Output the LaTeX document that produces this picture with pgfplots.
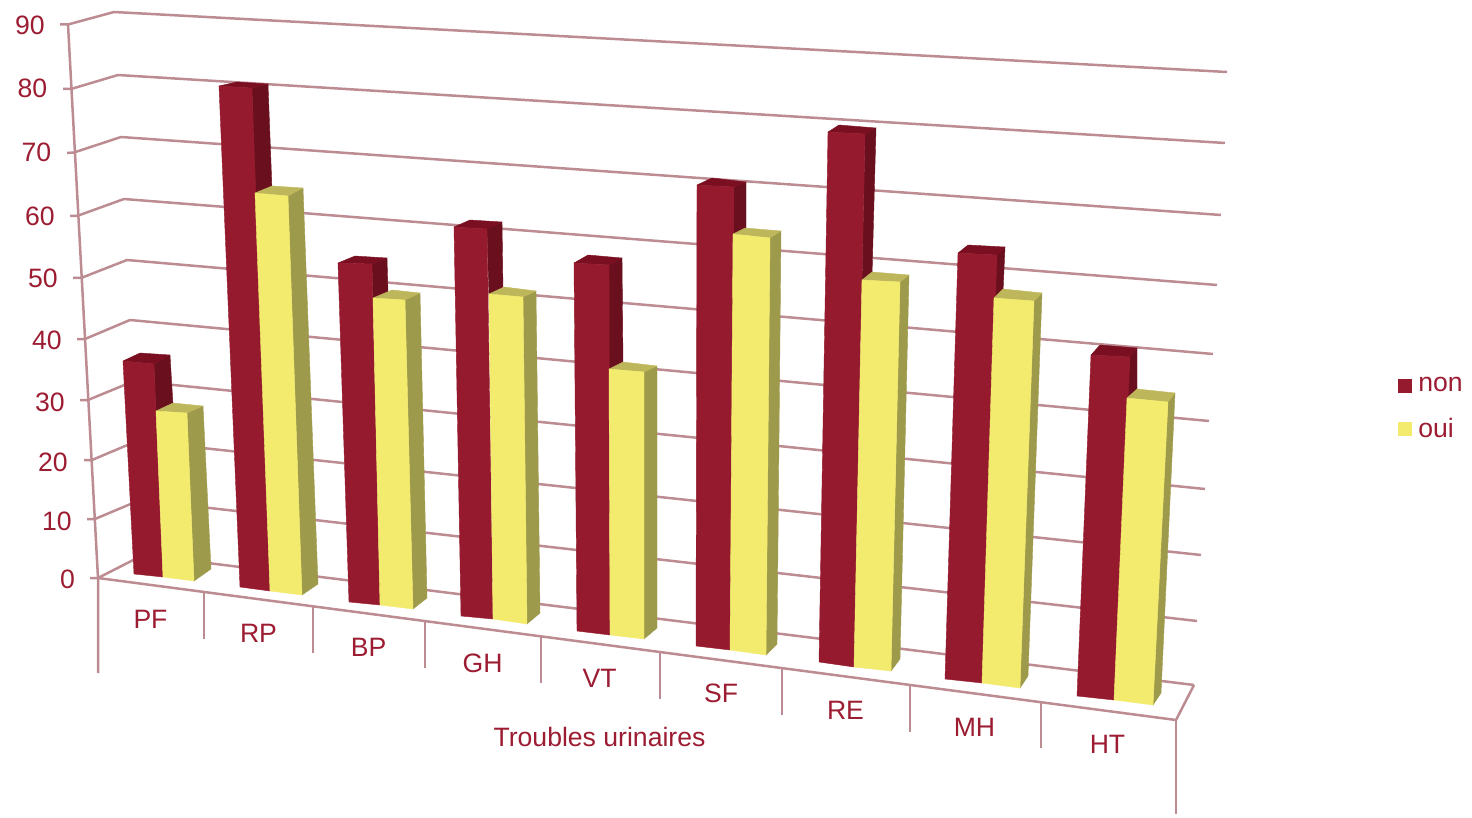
\documentclass[border=0pt]{standalone}
\usepackage{fontspec}
\setmainfont{Liberation Sans}
\usepackage{pgfplots}
\pgfplotsset{compat=1.18}

\definecolor{txt}{HTML}{9C1C32}
\definecolor{grid}{HTML}{BC8C92}
\definecolor{nonf}{HTML}{951A2E}
\definecolor{nons}{HTML}{6A0F1E}
\definecolor{nont}{HTML}{7A0F22}
\definecolor{ouif}{HTML}{F3EB6E}
\definecolor{ouis}{HTML}{9E9A4B}
\definecolor{ouit}{HTML}{BDB65A}

% one flat face of a bar, corners in picture coordinates
\newcommand{\face}[2]{\addplot[fill=#1,draw=#1,line width=0.2pt,forget plot] coordinates {#2} --cycle;}
% a line of the walls, floor or axis
\newcommand{\gl}[1]{\addplot[color=grid,line width=1.25pt,line join=round,forget plot] coordinates {#1};}
\newcommand{\lab}[3]{\node[anchor=base,text=txt] at (axis cs:#1,#2) {#3};}

\begin{document}
\begin{tikzpicture}
\begin{axis}[
width=736pt,
height=409pt,
scale only axis,
axis lines=none,
xmin=0,
xmax=1472,
ymin=0,
ymax=818,
y dir=reverse,
clip=false,
no marks,
font=\fontsize{13.3}{16}\selectfont,
legend cell align=left,
legend style={draw=none,fill=none,at={(axis cs:1398,372.5)},anchor=north west,
  inner sep=0pt,row sep=8pt,text=txt,font=\fontsize{13.3}{16}\selectfont},
legend image code/.code={\fill[#1] (0pt,-3.5pt) rectangle (7pt,3.5pt);\path (0pt,0pt) (8pt,0pt);},
]
\draw[draw=none] (axis cs:0,0) rectangle (axis cs:1472,818);

% gridlines 90 ... 0
\gl{(60,24.5) (68,24.5) (114,12) (1227,72)}
\gl{(63,89) (71,89) (118,75) (1225,143)}
\gl{(67,153) (74,152.5) (121,137) (1221,215)}
\gl{(70,216) (77,216) (124,199) (1217,285)}
\gl{(73,278) (81,278) (127,260) (1213,354)}
\gl{(77,339) (85,339) (130,320) (1209,421)}
\gl{(80,400) (88,400) (134,381) (1205,489)}
\gl{(84,460) (92,460) (137,441) (1201,555)}
\gl{(87,519) (95,519) (140,500) (1197,621)}
\gl{(90,578) (98,578) (143,555) (1194,685)}
% axis, floor edge and category ticks
\gl{(68,24.5) (98,578) (98,673)}
\gl{(98,578) (1176,720) (1194,685)}
\gl{(204,592) (204,639)}
\gl{(313,607) (313,653)}
\gl{(425,622) (425,668)}
\gl{(541,637) (541,683)}
\gl{(660,652) (660,699)}
\gl{(782,668) (782,715)}
\gl{(910,685) (910,732)}
\gl{(1041,702) (1041,748)}
\gl{(1176,720) (1176,814)}

% PF  non 36  oui 27
\face{nons}{(154,364) (170,355) (173,405) (156,415)}
\face{nont}{(123,361) (140,353) (170,355) (154,364)}
\face{nonf}{(123,361) (154,364) (163,577) (134,574)}
\face{ouis}{(187,413) (203,406) (211,569) (194,581)}
\face{ouit}{(156,411) (173,403) (203,406) (187,413)}
\face{ouif}{(156,411) (187,413) (194,581) (163,577)}
% RP  non 80  oui 63
\face{nons}{(252,88) (268,84) (272,190) (255,196)}
\face{nont}{(219,86) (237,82) (268,84) (252,88)}
\face{nonf}{(219,86) (252,88) (270,591) (240,587)}
\face{ouis}{(288,196) (303,188) (318,584) (302,595)}
\face{ouit}{(255,193) (272,186) (303,188) (288,196)}
\face{ouif}{(255,193) (288,196) (302,595) (270,591)}
% BP  non 52  oui 46
\face{nons}{(372,264) (387,258) (388,293) (373,301)}
\face{nont}{(338,263) (355,256) (387,258) (372,264)}
\face{nonf}{(338,263) (372,264) (380,605) (349,602)}
\face{ouis}{(405,300) (420,293) (427,598) (413,609)}
\face{ouit}{(373,298) (392,290) (420,293) (405,300)}
\face{ouif}{(373,298) (405,300) (413,609) (380,605)}
% GH  non 58  oui 47
\face{nons}{(487,229) (502,222) (503,291) (489,297)}
\face{nont}{(454,227) (470,220) (502,222) (487,229)}
\face{nonf}{(454,227) (487,229) (493,619) (461,616)}
\face{ouis}{(523,297) (536,291) (540,613) (527,624)}
\face{ouit}{(489,294) (504,287) (536,291) (523,297)}
\face{ouif}{(489,294) (523,297) (527,624) (493,619)}
% VT  non 52  oui 35
\face{nons}{(609,265) (622,258) (623,365) (609,372)}
\face{nont}{(574,263) (588,255) (622,258) (609,265)}
\face{nonf}{(574,263) (609,265) (610,635) (577,631)}
\face{ouis}{(644,372) (657,366) (657,628) (644,639)}
\face{ouit}{(609,369) (623,362) (657,366) (644,372)}
\face{ouif}{(609,369) (644,372) (644,639) (610,635)}
% SF  non 64  oui 56
\face{nons}{(734,187) (746,182) (746,231) (733,238)}
\face{nont}{(697,185) (712,178) (746,182) (734,187)}
\face{nonf}{(697,185) (734,187) (730,650) (696,646)}
\face{ouis}{(770,238) (781,231) (777,644) (766,655)}
\face{ouit}{(733,234) (745,228) (781,231) (770,238)}
\face{ouif}{(733,234) (770,238) (766,655) (730,650)}
% RE  non 73  oui 49
\face{nons}{(865,134) (876,128) (872,276) (862,283)}
\face{nont}{(828,132) (839,125) (876,128) (865,134)}
\face{nonf}{(828,132) (865,134) (854,667) (819,662)}
\face{ouis}{(900,282) (909,275) (900,659) (891,671)}
\face{ouit}{(862,280) (872,272) (909,275) (900,282)}
\face{ouif}{(862,280) (900,282) (891,671) (854,667)}
% MH  non 54  oui 46
\face{nons}{(997,255) (1005,247) (1003,292) (994,301)}
\face{nont}{(958,253) (968,245) (1005,247) (997,255)}
\face{nonf}{(958,253) (997,255) (982,683) (945,679)}
\face{ouis}{(1034,301) (1042,293) (1028,676) (1020,688)}
\face{ouit}{(994,298) (1003,289) (1042,293) (1034,301)}
\face{ouif}{(994,298) (1034,301) (1020,688) (982,683)}
% HT  non 37  oui 30
\face{nons}{(1130,357) (1137,348) (1137,393) (1127,402)}
\face{nont}{(1091,355) (1100,345) (1137,348) (1130,357)}
\face{nonf}{(1091,355) (1130,357) (1114,700) (1077,696)}
\face{ouis}{(1168,402) (1175,393) (1161,693) (1153,705)}
\face{ouit}{(1127,398) (1137,389) (1175,393) (1168,402)}
\face{ouif}{(1127,398) (1168,402) (1153,705) (1114,700)}

% value labels
\lab{30}{35}{90}
\lab{32.5}{98}{80}
\lab{36.5}{162}{70}
\lab{40}{226}{60}
\lab{43}{287}{50}
\lab{47}{349}{40}
\lab{50}{411}{30}
\lab{53}{471}{20}
\lab{57}{530}{10}
\lab{67.5}{588}{0}
% category labels
\lab{150.5}{628}{PF}
\lab{258.5}{642}{RP}
\lab{368.5}{656}{BP}
\lab{482.5}{672}{GH}
\lab{599.5}{687}{VT}
\lab{721}{702}{SF}
\lab{845.5}{719}{RE}
\lab{974.5}{736}{MH}
\lab{1107.5}{753}{HT}
\lab{599.5}{746}{Troubles urinaires}

\addlegendimage{fill=nonf,draw=none}
\addlegendentry{non}
\addlegendimage{fill=ouif,draw=none}
\addlegendentry{oui}
\end{axis}
\end{tikzpicture}
\end{document}
